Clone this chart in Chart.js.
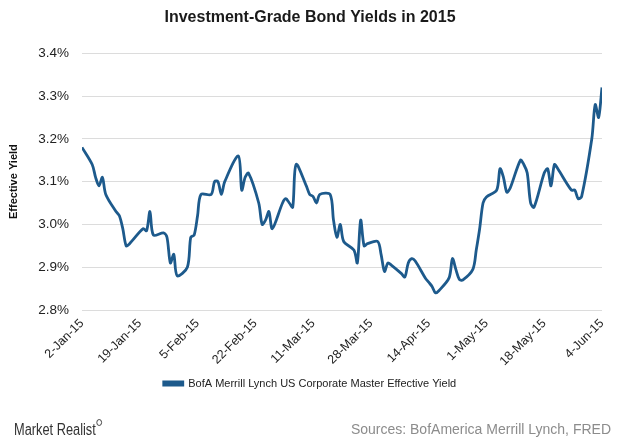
<!DOCTYPE html>
<html>
<head>
<meta charset="utf-8">
<script src="https://cdn.jsdelivr.net/npm/chart.js@4"></script>
<style>
  html, body { margin: 0; padding: 0; background: #fff; }
  #wrap { position: relative; width: 620px; height: 443px; }
  .brand { position: absolute; left: 14px; top: 419px; font-family: "Liberation Sans", Arial, sans-serif; font-size: 16px; color: #333; transform: scaleX(0.8); transform-origin: left top; white-space: nowrap; }
  .brand .lens { display: inline-block; width: 5px; height: 5px; border: 1.5px solid #333; border-radius: 50%; vertical-align: 9px; margin-left: 1px; }
  .source { position: absolute; right: 9px; top: 421px; font-family: "Liberation Sans", Arial, sans-serif; font-size: 14px; color: #8c8c8c; }
</style>
</head>
<body>
<div id="wrap">
  <canvas id="yieldChart" width="620" height="443"></canvas>
  <div class="brand">Market Realist<span class="lens"></span></div>
  <div class="source">Sources: BofAmerica Merrill Lynch, FRED</div>
</div>
<script>
// Values
const seriesName = 'BofA Merrill Lynch US Corporate Master Effective Yield';
const tickLabels = ['2-Jan-15', '19-Jan-15', '5-Feb-15', '22-Feb-15', '11-Mar-15',
                    '28-Mar-15', '14-Apr-15', '1-May-15', '18-May-15', '4-Jun-15'];
const dates = [
    '2015-01-02', '2015-01-05', '2015-01-06', '2015-01-07', '2015-01-08', '2015-01-09',
    '2015-01-12', '2015-01-13', '2015-01-14', '2015-01-15', '2015-01-16',
    '2015-01-20', '2015-01-21', '2015-01-22', '2015-01-23',
    '2015-01-26', '2015-01-27', '2015-01-28', '2015-01-29', '2015-01-30',
    '2015-02-02', '2015-02-03', '2015-02-04', '2015-02-05', '2015-02-06',
    '2015-02-09', '2015-02-10', '2015-02-11', '2015-02-12', '2015-02-13',
    '2015-02-17', '2015-02-18', '2015-02-19', '2015-02-20',
    '2015-02-23', '2015-02-24', '2015-02-25', '2015-02-26', '2015-02-27',
    '2015-03-02', '2015-03-03', '2015-03-04', '2015-03-05', '2015-03-06',
    '2015-03-09', '2015-03-10', '2015-03-11', '2015-03-12', '2015-03-13',
    '2015-03-16', '2015-03-17', '2015-03-18', '2015-03-19', '2015-03-20',
    '2015-03-23', '2015-03-24', '2015-03-25', '2015-03-26', '2015-03-27',
    '2015-03-30', '2015-03-31', '2015-04-01', '2015-04-02', '2015-04-03',
    '2015-04-06', '2015-04-07', '2015-04-08', '2015-04-09', '2015-04-10',
    '2015-04-13', '2015-04-14', '2015-04-15', '2015-04-16', '2015-04-17',
    '2015-04-20', '2015-04-21', '2015-04-22', '2015-04-23', '2015-04-24',
    '2015-04-27', '2015-04-28', '2015-04-29', '2015-04-30', '2015-05-01',
    '2015-05-04', '2015-05-05', '2015-05-06', '2015-05-07', '2015-05-08',
    '2015-05-11', '2015-05-12', '2015-05-13', '2015-05-14', '2015-05-15',
    '2015-05-18', '2015-05-19', '2015-05-20', '2015-05-21', '2015-05-22',
    '2015-05-26', '2015-05-27', '2015-05-28', '2015-05-29',
    '2015-06-01', '2015-06-02', '2015-06-03', '2015-06-04'
];
const yields = [
    3.18, 3.14, 3.11, 3.09, 3.11, 3.07,
    3.03, 3.02, 2.99, 2.95, 2.955,
    2.99, 2.985, 3.03, 2.975,
    2.98, 2.97, 2.91, 2.93, 2.88,
    2.90, 2.97, 2.975, 3.02, 3.07,
    3.07, 3.10, 3.10, 3.07, 3.10,
    3.16, 3.08, 3.11, 3.12,
    3.05, 3.00, 3.01, 3.03, 2.99,
    3.05, 3.06, 3.05, 3.04, 3.14,
    3.09, 3.07, 3.065, 3.05, 3.07,
    3.07, 3.01, 2.97, 3.00, 2.96,
    2.94, 2.91, 3.01, 2.95, 2.955,
    2.96, 2.93, 2.89, 2.91, 2.905,
    2.885, 2.877, 2.91, 2.92, 2.915,
    2.875, 2.865, 2.855, 2.84, 2.845,
    2.875, 2.92, 2.895, 2.872, 2.87,
    2.895, 2.94, 2.99, 3.05, 3.064,
    3.08, 3.13, 3.11, 3.075, 3.085,
    3.15, 3.14, 3.12, 3.05, 3.04,
    3.12, 3.13, 3.09, 3.14, 3.13,
    3.08, 3.08, 3.06, 3.065,
    3.20, 3.28, 3.25, 3.32
];

const DAY = 86400000;
const start = Date.parse(dates[0]);
const points = dates.map((d, i) => ({ x: (Date.parse(d) - start) / DAY, y: yields[i] }));

const ctx = document.getElementById('yieldChart');
new Chart(ctx, {
    type: 'line',
    data: {
        datasets: [{
            label: seriesName,
            data: points,
            borderColor: '#1d5a8c',
            backgroundColor: '#1d5a8c',
            borderWidth: 2.8,
            pointRadius: 0,
            tension: 0.3,
            fill: false
        }]
    },
    options: {
        responsive: false,
        animation: false,
        layout: { padding: { top: 0, right: 0, bottom: 44, left: 0 } },
        plugins: {
            title: {
                display: true,
                text: 'Investment-Grade Bond Yields in 2015',
                color: '#1a1a1a',
                font: { family: 'Liberation Sans', size: 16, weight: 'bold' },
                padding: { top: 8, bottom: 26 }
            },
            legend: {
                display: true,
                position: 'bottom',
                labels: {
                    color: '#222',
                    boxWidth: 19,
                    boxHeight: 3,
                    padding: 10,
                    font: { family: 'Liberation Sans', size: 11 }
                }
            },
            tooltip: { enabled: false }
        },
        scales: {
            x: {
                type: 'linear',
                min: 0,
                max: 153,
                grid: { display: false, drawTicks: false },
                border: { display: false },
                ticks: {
                    stepSize: 17,
                    autoSkip: false,
                    maxRotation: 45,
                    minRotation: 45,
                    padding: 6,
                    color: '#222',
                    font: { family: 'Liberation Sans', size: 12.5 },
                    callback: (v) => tickLabels[Math.round(v / 17)]
                },
                afterFit: (scale) => { scale.height = 58; }
            },
            y: {
                min: 2.8,
                max: 3.4,
                grid: { color: '#dcdcdc', drawTicks: false },
                border: { display: false },
                ticks: {
                    stepSize: 0.1,
                    padding: 13,
                    color: '#222',
                    font: { family: 'Liberation Sans', size: 13.5 },
                    callback: (v) => v.toFixed(1) + '%'
                },
                title: {
                    display: true,
                    text: 'Effective Yield',
                    color: '#111',
                    font: { family: 'Liberation Sans', size: 11, weight: 'bold' },
                    padding: { top: 7, bottom: 0 }
                },
                afterFit: (scale) => { scale.width = 82; }
            },
            // empty right-hand axis, only keeps a margin so title and legend stay centred on the page
            yRight: {
                position: 'right',
                min: 2.8,
                max: 3.4,
                grid: { display: false, drawTicks: false },
                border: { display: false },
                ticks: { display: false },
                afterFit: (scale) => { scale.width = 18; }
            }
        }
    }
});
</script>
</body>
</html>
